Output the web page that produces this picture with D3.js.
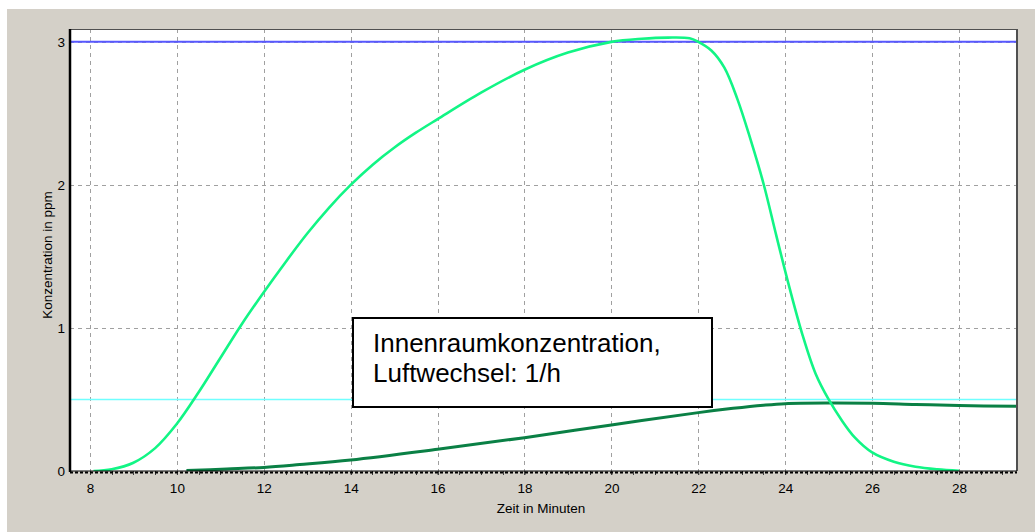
<!DOCTYPE html>
<html>
<head>
<meta charset="utf-8">
<script src="https://cdn.jsdelivr.net/npm/d3@7"></script>
<style>
  html, body { margin: 0; padding: 0; background: #ffffff; }
  svg { display: block; }
  text { font-family: "Liberation Sans", Arial, sans-serif; fill: #000; }
</style>
</head>
<body>
<svg id="chart" width="1035" height="532"></svg>
<script>
// Peak concentration (ppm) over time (minutes)
const peakTimes  = [8.08, 8.5, 9.0, 9.5, 10.0, 10.5, 11.0, 11.5, 12.0, 12.5, 13.0, 13.5, 14.0, 14.5, 15.0, 15.5, 16.0, 17.0, 18.0, 19.0, 20.0, 20.7, 21.3, 21.8, 22.0, 22.3, 22.6, 22.9, 23.2, 23.5, 23.8, 24.1, 24.4, 24.7, 25.0, 25.3, 25.6, 26.0, 26.5, 27.0, 27.5, 28.0];
const peakValues = [0, 0.012, 0.058, 0.16, 0.33, 0.55, 0.79, 1.03, 1.25, 1.46, 1.66, 1.84, 2.0, 2.14, 2.26, 2.365, 2.46, 2.645, 2.805, 2.925, 3.0, 3.022, 3.03, 3.025, 3.0, 2.94, 2.82, 2.6, 2.32, 2.01, 1.64, 1.28, 0.95, 0.68, 0.5, 0.355, 0.235, 0.13, 0.065, 0.03, 0.012, 0.002];

// Indoor concentration, air change rate 1/h
const indoorTimes  = [10.22, 11.15, 12.0, 12.83, 14.0, 16.0, 18.0, 20.0, 22.0, 22.8, 23.5, 24.0, 25.0, 26.0, 27.0, 28.0, 29.33];
const indoorValues = [0.003, 0.014, 0.025, 0.045, 0.077, 0.152, 0.233, 0.322, 0.408, 0.438, 0.46, 0.471, 0.475, 0.473, 0.465, 0.458, 0.452];

// Reference levels
const upperLimit = 3;
const lowerLimit = 0.5;

// Axis ticks
const xTicks = [8, 10, 12, 14, 16, 18, 20, 22, 24, 26, 28];
const yTicks = [0, 1, 2, 3];
const xMinorStep = 0.5;

const xLabel = "Zeit in Minuten";
const yLabel = "Konzentration in ppm";
const noteLines = ["Innenraumkonzentration,", "Luftwechsel: 1/h"];

const svg = d3.select("#chart");
const W = 1035, H = 532;
const plot = { left: 70, top: 29, right: 1017, bottom: 471 };

// window-style panel
svg.append("rect").attr("x", 7).attr("y", 9).attr("width", W - 7).attr("height", H - 9).attr("fill", "#d4d0c8");
svg.append("rect").attr("x", plot.left).attr("y", plot.top)
  .attr("width", plot.right - plot.left).attr("height", plot.bottom - plot.top).attr("fill", "#ffffff");

const x = d3.scaleLinear().domain([7.54, 29.335]).range([plot.left, plot.right]);
const y = d3.scaleLinear().domain([0, 3.09]).range([plot.bottom, plot.top]);

svg.append("clipPath").attr("id", "plotClip").append("rect")
  .attr("x", plot.left).attr("y", plot.top)
  .attr("width", plot.right - plot.left).attr("height", plot.bottom - plot.top);

// dashed grid
const grid = svg.append("g").attr("stroke", "#a0a0a0").attr("stroke-width", 1).attr("stroke-dasharray", "4,4");
grid.selectAll("line.v").data(xTicks).join("line")
  .attr("x1", d => Math.round(x(d)) + 0.5).attr("x2", d => Math.round(x(d)) + 0.5)
  .attr("y1", plot.top).attr("y2", plot.bottom);
grid.selectAll("line.h").data(yTicks.filter(d => d > 0)).join("line")
  .attr("x1", plot.left).attr("x2", plot.right)
  .attr("y1", d => Math.round(y(d)) + 0.5).attr("y2", d => Math.round(y(d)) + 0.5);

const lines = svg.append("g").attr("clip-path", "url(#plotClip)");

// reference levels
lines.append("line").attr("x1", plot.left).attr("x2", plot.right)
  .attr("y1", y(upperLimit)).attr("y2", y(upperLimit))
  .attr("stroke", "#5858ff").attr("stroke-width", 2);
lines.append("line").attr("x1", plot.left).attr("x2", plot.right)
  .attr("y1", y(lowerLimit)).attr("y2", y(lowerLimit))
  .attr("stroke", "#70ffff").attr("stroke-width", 1.5);

const lineGen = d3.line().x(d => x(d[0])).y(d => y(d[1])).curve(d3.curveCatmullRom.alpha(0.5));

lines.append("path").datum(d3.zip(indoorTimes, indoorValues))
  .attr("d", lineGen).attr("fill", "none")
  .attr("stroke", "#0a8045").attr("stroke-width", 3);

lines.append("path").datum(d3.zip(peakTimes, peakValues))
  .attr("d", lineGen).attr("fill", "none")
  .attr("stroke", "#12f585").attr("stroke-width", 2.6);

// frame
svg.append("line").attr("x1", plot.left).attr("x2", plot.right).attr("y1", plot.top + 0.5).attr("y2", plot.top + 0.5)
  .attr("stroke", "#505050").attr("stroke-width", 1);
svg.append("line").attr("x1", plot.right).attr("x2", plot.right).attr("y1", plot.top).attr("y2", plot.bottom)
  .attr("stroke", "#505050").attr("stroke-width", 2);

// x axis
const xMinor = d3.range(8, 29.3, xMinorStep);
svg.append("g").selectAll("line").data(xMinor).join("line")
  .attr("x1", d => Math.round(x(d)) + 0.5).attr("x2", d => Math.round(x(d)) + 0.5)
  .attr("y1", plot.bottom).attr("y2", plot.bottom + 4)
  .attr("stroke", "#404040").attr("stroke-width", 1);

const xAxis = svg.append("g").attr("transform", `translate(0,${plot.bottom})`)
  .call(d3.axisBottom(x).tickValues(xTicks).tickSize(4).tickPadding(8).tickFormat(d3.format("d")));
xAxis.select(".domain").remove();
xAxis.selectAll(".tick line").attr("stroke", "#404040");
xAxis.selectAll("text").attr("font-size", 13.5).attr("font-family", "Liberation Sans, Arial, sans-serif").attr("fill", "#000");

svg.append("line").attr("x1", plot.left).attr("x2", plot.right).attr("y1", plot.bottom).attr("y2", plot.bottom)
  .attr("stroke", "#000").attr("stroke-width", 1);
svg.append("line").attr("x1", plot.left).attr("x2", plot.right).attr("y1", plot.bottom + 1.5).attr("y2", plot.bottom + 1.5)
  .attr("stroke", "#000").attr("stroke-width", 2).attr("stroke-dasharray", "3,2");

// y axis
const yAxis = svg.append("g").attr("transform", `translate(${plot.left},0)`)
  .call(d3.axisLeft(y).tickValues(yTicks).tickSize(0).tickPadding(5).tickFormat(d3.format("d")));
yAxis.select(".domain").remove();
yAxis.selectAll("text").attr("font-size", 13.5).attr("font-family", "Liberation Sans, Arial, sans-serif").attr("fill", "#000");
svg.append("line").attr("x1", plot.left).attr("x2", plot.left).attr("y1", plot.top).attr("y2", plot.bottom + 1)
  .attr("stroke", "#000").attr("stroke-width", 2.5);

// axis titles
svg.append("text").attr("x", 541).attr("y", 513)
  .attr("text-anchor", "middle").attr("font-size", 13.5).text(xLabel);
svg.append("text").attr("transform", `translate(52,255) rotate(-90)`)
  .attr("text-anchor", "middle").attr("font-size", 13.5).text(yLabel);

// note box
const note = svg.append("g");
note.append("rect").attr("x", 353).attr("y", 318).attr("width", 359).attr("height", 89)
  .attr("fill", "#ffffff").attr("stroke", "#000").attr("stroke-width", 2);
note.selectAll("text").data(noteLines).join("text")
  .attr("x", 373).attr("y", (d, i) => 352 + i * 29.5)
  .attr("font-size", 26).text(d => d);
</script>
</body>
</html>
